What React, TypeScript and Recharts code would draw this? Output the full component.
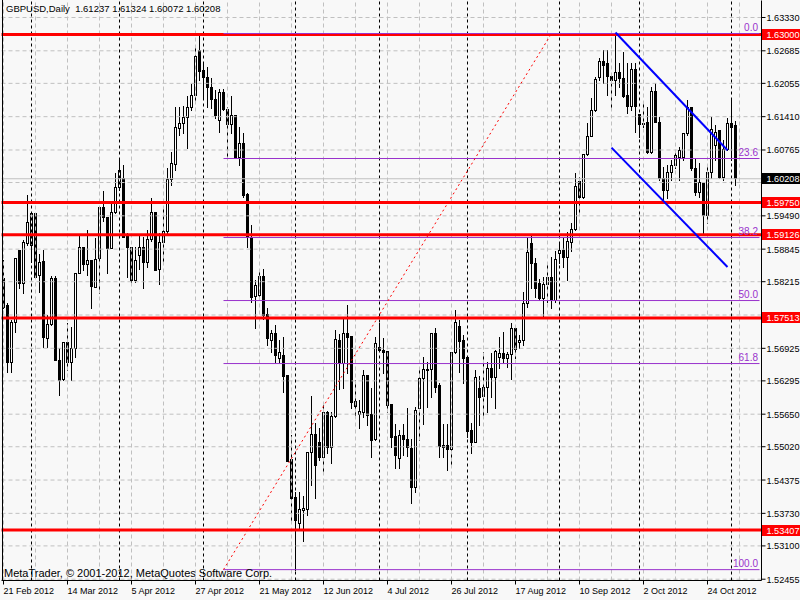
import React from "react";
import { ComposedChart, Bar, XAxis, YAxis, ReferenceLine } from "recharts";

// GBPUSD daily candles, 21 Feb 2012 onwards
const opens = [
  1.5828, 1.5775, 1.5665, 1.5743, 1.5882, 1.5818, 1.5895, 1.5892, 1.5954, 1.5834,
  1.5861, 1.5711, 1.5739, 1.5828, 1.5669, 1.5632, 1.5704, 1.5665, 1.5692, 1.5837,
  1.5888, 1.5855, 1.5863, 1.5810, 1.5866, 1.5965, 1.5946, 1.5886, 1.5956, 1.6004,
  1.6021, 1.5911, 1.5888, 1.5824, 1.5872, 1.5888, 1.5859, 1.5903, 1.5956, 1.5845,
  1.5897, 1.5919, 1.6019, 1.6048, 1.6118, 1.6128, 1.6139, 1.6159, 1.6182, 1.6269,
  1.6230, 1.6217, 1.6197, 1.6174, 1.6134, 1.6188, 1.6155, 1.6126, 1.6143, 1.6062,
  1.6089, 1.5990, 1.5907, 1.5793, 1.5795, 1.5832, 1.5758, 1.5708, 1.5721, 1.5673,
  1.5679, 1.5640, 1.5477, 1.5404, 1.5353, 1.5379, 1.5381, 1.5491, 1.5526, 1.5510,
  1.5481, 1.5568, 1.5500, 1.5560, 1.5708, 1.5663, 1.5721, 1.5715, 1.5590, 1.5564,
  1.5568, 1.5640, 1.5564, 1.5516, 1.5694, 1.5688, 1.5686, 1.5584, 1.5522, 1.5479,
  1.5524, 1.5516, 1.5498, 1.5423, 1.5576, 1.5634, 1.5650, 1.5651, 1.5721, 1.5620,
  1.5504, 1.5504, 1.5496, 1.5684, 1.5735, 1.5708, 1.5675, 1.5533, 1.5510, 1.5615,
  1.5599, 1.5617, 1.5653, 1.5636, 1.5675, 1.5682, 1.5673, 1.5680, 1.5731, 1.5704,
  1.5708, 1.5779, 1.5895, 1.5857, 1.5818, 1.5789, 1.5816, 1.5830, 1.5785, 1.5876,
  1.5882, 1.5868, 1.5897, 1.5922, 1.6015, 1.5985, 1.6068, 1.6103, 1.6153, 1.6217,
  1.6248, 1.6244, 1.6219, 1.6211, 1.6226, 1.6215, 1.6182, 1.6161, 1.6232, 1.6145,
  1.6128, 1.6130, 1.6072, 1.6190, 1.6130, 1.6021, 1.5998, 1.6033, 1.6047, 1.6062,
  1.6062, 1.6108, 1.6159, 1.6041, 1.5994, 1.6011, 1.5950, 1.6033, 1.6085, 1.6114,
  1.6023, 1.6077, 1.6128, 1.61237,
];
const highs = [
  1.5863, 1.5779, 1.5746, 1.5866, 1.5882, 1.5901, 1.5988, 1.5954, 1.5954, 1.5874,
  1.5882, 1.5756, 1.5832, 1.5832, 1.5692, 1.5704, 1.5741, 1.5733, 1.5837, 1.5909,
  1.5888, 1.5921, 1.5863, 1.5905, 1.5965, 1.5996, 1.5946, 1.5973, 1.6031, 1.6056,
  1.6047, 1.5915, 1.5888, 1.5888, 1.5909, 1.5907, 1.5921, 1.5982, 1.5956, 1.5915,
  1.5967, 1.6041, 1.6072, 1.6159, 1.6159, 1.6161, 1.6180, 1.6203, 1.6277, 1.6296,
  1.6244, 1.6236, 1.6215, 1.6192, 1.6194, 1.6194, 1.6159, 1.6180, 1.6143, 1.6120,
  1.6108, 1.5992, 1.5930, 1.5824, 1.5845, 1.5845, 1.5770, 1.5727, 1.5737, 1.5708,
  1.5713, 1.5640, 1.5524, 1.5413, 1.5413, 1.5406, 1.5491, 1.5599, 1.5547, 1.5537,
  1.5586, 1.5570, 1.5568, 1.5727, 1.5719, 1.5750, 1.5775, 1.5715, 1.5630, 1.5592,
  1.5650, 1.5640, 1.5615, 1.5713, 1.5741, 1.5711, 1.5686, 1.5584, 1.5545, 1.5533,
  1.5545, 1.5576, 1.5516, 1.5578, 1.5651, 1.5675, 1.5665, 1.5721, 1.5731, 1.5624,
  1.5545, 1.5545, 1.5684, 1.5766, 1.5746, 1.5717, 1.5675, 1.5547, 1.5650, 1.5638,
  1.5684, 1.5665, 1.5682, 1.5688, 1.5713, 1.5723, 1.5684, 1.5741, 1.5733, 1.5717,
  1.5801, 1.5907, 1.5911, 1.5866, 1.5826, 1.5830, 1.5853, 1.5868, 1.5880, 1.5895,
  1.5905, 1.5917, 1.5934, 1.6031, 1.6023, 1.6068, 1.6128, 1.6176, 1.6217, 1.6253,
  1.6269, 1.6269, 1.6225, 1.6302, 1.6244, 1.6265, 1.6244, 1.6244, 1.6244, 1.6145,
  1.6166, 1.6159, 1.6197, 1.6205, 1.6139, 1.6042, 1.6047, 1.6056, 1.6076, 1.6081,
  1.6108, 1.6172, 1.6159, 1.6060, 1.6050, 1.6011, 1.6047, 1.6139, 1.6124, 1.6114,
  1.6095, 1.6137, 1.6176, 1.61324,
];
const lows = [
  1.5770, 1.5646, 1.5646, 1.5723, 1.5808, 1.5799, 1.5892, 1.5859, 1.5830, 1.5801,
  1.5694, 1.5694, 1.5737, 1.5669, 1.5601, 1.5630, 1.5650, 1.5630, 1.5675, 1.5837,
  1.5843, 1.5834, 1.5770, 1.5810, 1.5799, 1.5938, 1.5837, 1.5886, 1.5954, 1.5998,
  1.5907, 1.5830, 1.5820, 1.5820, 1.5845, 1.5808, 1.5849, 1.5899, 1.5843, 1.5816,
  1.5859, 1.5915, 1.6008, 1.6037, 1.6105, 1.6108, 1.6079, 1.6153, 1.6166, 1.6211,
  1.6178, 1.6159, 1.6157, 1.6137, 1.6110, 1.6153, 1.6064, 1.6108, 1.6060, 1.6047,
  1.5985, 1.5888, 1.5781, 1.5731, 1.5791, 1.5748, 1.5698, 1.5684, 1.5665, 1.5665,
  1.5607, 1.5473, 1.5353, 1.5262, 1.5340, 1.5318, 1.5369, 1.5426, 1.5402, 1.5475,
  1.5450, 1.5489, 1.5469, 1.5558, 1.5613, 1.5615, 1.5644, 1.5576, 1.5558, 1.5537,
  1.5558, 1.5543, 1.5481, 1.5514, 1.5688, 1.5644, 1.5568, 1.5500, 1.5460, 1.5460,
  1.5485, 1.5483, 1.5392, 1.5413, 1.5514, 1.5545, 1.5578, 1.5597, 1.5607, 1.5481,
  1.5481, 1.5456, 1.5467, 1.5682, 1.5646, 1.5624, 1.5520, 1.5489, 1.5510, 1.5543,
  1.5560, 1.5568, 1.5597, 1.5576, 1.5653, 1.5665, 1.5655, 1.5632, 1.5673, 1.5692,
  1.5698, 1.5772, 1.5808, 1.5791, 1.5785, 1.5753, 1.5781, 1.5770, 1.5781, 1.5857,
  1.5849, 1.5824, 1.5880, 1.5921, 1.5956, 1.5983, 1.6066, 1.6103, 1.6151, 1.6211,
  1.6205, 1.6182, 1.6159, 1.6182, 1.6197, 1.6178, 1.6147, 1.6153, 1.6110, 1.6101,
  1.6120, 1.6070, 1.6070, 1.6130, 1.6017, 1.5979, 1.5983, 1.6017, 1.6041, 1.6017,
  1.6056, 1.6105, 1.6037, 1.5988, 1.5985, 1.5915, 1.5934, 1.6021, 1.6056, 1.6021,
  1.6017, 1.6076, 1.6056, 1.60072,
];
const closes = [
  1.5772, 1.5665, 1.5743, 1.5866, 1.5818, 1.5897, 1.5936, 1.5954, 1.5830, 1.5859,
  1.5713, 1.5739, 1.5828, 1.5669, 1.5630, 1.5704, 1.5665, 1.5692, 1.5837, 1.5888,
  1.5855, 1.5863, 1.5812, 1.5864, 1.5965, 1.5946, 1.5886, 1.5956, 1.6004, 1.6037,
  1.5907, 1.5888, 1.5824, 1.5863, 1.5888, 1.5859, 1.5903, 1.5956, 1.5843, 1.5897,
  1.5919, 1.6019, 1.6050, 1.6120, 1.6128, 1.6139, 1.6159, 1.6182, 1.6258, 1.6228,
  1.6217, 1.6197, 1.6174, 1.6143, 1.6188, 1.6155, 1.6126, 1.6143, 1.6062, 1.6089,
  1.5988, 1.5907, 1.5791, 1.5814, 1.5832, 1.5756, 1.5711, 1.5721, 1.5679, 1.5684,
  1.5638, 1.5473, 1.5402, 1.5359, 1.5381, 1.5382, 1.5491, 1.5526, 1.5466, 1.5481,
  1.5568, 1.5500, 1.5560, 1.5709, 1.5663, 1.5721, 1.5713, 1.5588, 1.5580, 1.5570,
  1.5640, 1.5562, 1.5514, 1.5702, 1.5688, 1.5684, 1.5582, 1.5520, 1.5485, 1.5524,
  1.5516, 1.5500, 1.5423, 1.5572, 1.5634, 1.5651, 1.5651, 1.5721, 1.5617, 1.5502,
  1.5500, 1.5496, 1.5684, 1.5743, 1.5706, 1.5673, 1.5532, 1.5510, 1.5636, 1.5597,
  1.5617, 1.5653, 1.5636, 1.5686, 1.5682, 1.5673, 1.5680, 1.5731, 1.5690, 1.5708,
  1.5779, 1.5878, 1.5857, 1.5808, 1.5789, 1.5816, 1.5830, 1.5785, 1.5864, 1.5882,
  1.5868, 1.5899, 1.5922, 1.6006, 1.5985, 1.6068, 1.6103, 1.6153, 1.6213, 1.6248,
  1.6240, 1.6219, 1.6211, 1.6226, 1.6215, 1.6180, 1.6161, 1.6232, 1.6161, 1.6126,
  1.6126, 1.6072, 1.6190, 1.6130, 1.6021, 1.5998, 1.6033, 1.6047, 1.6066, 1.6076,
  1.6108, 1.6159, 1.6041, 1.5994, 1.6013, 1.5950, 1.6033, 1.6116, 1.6110, 1.6023,
  1.6077, 1.6128, 1.6120, 1.60208,
];

// one label every 16 bars, starting at the first bar
const dateLabels = [
  "21 Feb 2012", "14 Mar 2012", "5 Apr 2012", "27 Apr 2012", "21 May 2012", "12 Jun 2012",
  "4 Jul 2012", "26 Jul 2012", "17 Aug 2012", "10 Sep 2012", "2 Oct 2012", "24 Oct 2012",
];
const priceTicks = [
  1.6333, 1.62685, 1.62055, 1.6141, 1.60765, 1.60135, 1.5949, 1.58845, 1.58215,
  1.5757, 1.56925, 1.56295, 1.5565, 1.5502, 1.54375, 1.5373, 1.531, 1.52455,
];
const levels = [1.63, 1.5975, 1.59126, 1.57513, 1.53407];
const lastPrice = 1.60208;
const fibLevels = [
  { name: "0.0", price: 1.6302 },
  { name: "23.6", price: 1.606 },
  { name: "38.2", price: 1.5907 },
  { name: "50.0", price: 1.5785 },
  { name: "61.8", price: 1.5663 },
  { name: "100.0", price: 1.5264 },
];
const fibFrom = 55;
const fibTrend = [{ x: 55, y: 1.5264 }, { x: 137, y: 1.6302 }];
const channelUpper = [{ x: 153, y: 1.6304 }, { x: 181, y: 1.6076 }];
const channelLower = [{ x: 152, y: 1.6081 }, { x: 181, y: 1.585 }];
const monthStarts = [7, 29, 50, 73, 94, 116, 139, 159, 182];

const SLOTS = 190; // bars plus empty space on the right
const FONT = "'Liberation Sans', Arial, sans-serif";
const FIB = "#9932cc";

const data = Array.from({ length: SLOTS }, (_, i) =>
  i < opens.length
    ? { idx: i, open: opens[i], high: highs[i], low: lows[i], close: closes[i], range: [lows[i], highs[i]] }
    : { idx: i }
);
const gridSlots = Array.from({ length: Math.ceil(SLOTS / 8) }, (_, k) => k * 8);

const Candle = (props: any) => {
  const { x, y, width, height, payload } = props;
  if (!payload || payload.open == null) return null;
  const top = Math.min(y, y + height);
  const bot = Math.max(y, y + height);
  const span = payload.high - payload.low || 1;
  const toY = (p: number) => top + ((payload.high - p) / span) * (bot - top);
  const cx = Math.floor(x + width / 2);
  const yo = Math.floor(toY(payload.open));
  const yc = Math.floor(toY(payload.close));
  const yt = Math.floor(top);
  const yb = Math.floor(bot);
  const b0 = Math.min(yo, yc);
  const b1 = Math.max(yo, yc);
  const bull = payload.close >= payload.open;
  return (
    <g>
      <rect x={cx} y={yt} width={1} height={Math.max(yb - yt + 1, 1)} fill="#000" />
      {b1 - b0 < 1 ? (
        <rect x={cx - 1} y={b0} width={3} height={1} fill="#000" />
      ) : bull ? (
        <rect x={cx - 0.5} y={b0 + 0.5} width={2} height={b1 - b0} fill="#fff" stroke="#000" strokeWidth={1} />
      ) : (
        <rect x={cx - 1} y={b0} width={3} height={b1 - b0 + 1} fill="#000" />
      )}
    </g>
  );
};

const PriceTick = (props: any) => {
  const { x, y, payload } = props;
  const v = payload.value;
  const boxX = x - 5.5;
  const common = { x: x - 1, y: y + 3.5, fontSize: 9.5, fontFamily: FONT, textLength: 33, lengthAdjust: "spacingAndGlyphs" };
  if (levels.includes(v) || v === lastPrice) {
    const bg = v === lastPrice ? "#000" : "#ff0000";
    return (
      <g>
        <rect x={boxX} y={Math.floor(y) - 5} width={40} height={11} fill={bg} />
        <text {...common} fill="#fff">
          {v.toFixed(5)}
        </text>
      </g>
    );
  }
  const hidden = [...levels, lastPrice].some((l) => Math.abs(l - v) < 0.0012);
  if (hidden) return <g />;
  return (
    <text {...common} fill="#000">
      {v.toFixed(5)}
    </text>
  );
};

const DateTick = (props: any) => {
  const { x, y, payload } = props;
  const label = dateLabels[payload.value / 16];
  if (!label) return <g />;
  return (
    <text x={x} y={y + 7.5} fill="#000" fontSize={9} fontFamily={FONT}>
      {label}
    </text>
  );
};

const FibLabel = (props: any) => {
  const vb = props.viewBox || {};
  const right = (vb.x ?? 0) + (vb.width ?? 0);
  return (
    <text x={right - 1.5} y={(vb.y ?? 0) - 2.5} textAnchor="end" fill={FIB} fontSize={10} fontFamily={FONT}>
      {props.fibText}
    </text>
  );
};

export default function App() {
  return (
    <div style={{ position: "absolute", left: 0, top: 0, width: 800, height: 600, background: "#f8f8f8" }}>
      <ComposedChart
        width={800}
        height={600}
        data={data}
        margin={{ top: 0.5, right: 0, bottom: 0, left: 1.5 }}
      >
        <XAxis
          dataKey="idx"
          type="category"
          interval={15}
          height={19.5}
          tickSize={4}
          tickLine={{ stroke: "#000" }}
          axisLine={{ stroke: "#000" }}
          tick={<DateTick />}
        />
        <YAxis
          orientation="right"
          type="number"
          domain={[1.5243, 1.63659]}
          allowDataOverflow
          ticks={[...priceTicks, ...levels, lastPrice]}
          interval={0}
          width={38.5}
          tickSize={4}
          tickLine={{ stroke: "#000" }}
          axisLine={{ stroke: "#000" }}
          tick={<PriceTick />}
        />
        {priceTicks.map((p) => (
          <ReferenceLine key={"h" + p} y={p} stroke="#c0c0c0" strokeDasharray="4 3" />
        ))}
        {gridSlots.map((s) => (
          <ReferenceLine key={"v" + s} x={s} stroke="#c0c0c0" strokeDasharray="4 3" />
        ))}
        {monthStarts.map((s) => (
          <ReferenceLine key={"m" + s} x={s} stroke="#000" strokeDasharray="3 3" />
        ))}
        <ReferenceLine y={lastPrice} stroke="#c0c0c0" />
        <Bar dataKey="range" barSize={4} shape={<Candle />} isAnimationActive={false} />
        {levels.map((p) => (
          <ReferenceLine key={"l" + p} y={p} stroke="#ff0000" strokeWidth={3} />
        ))}
        {fibLevels.map((f) => (
          <ReferenceLine
            key={"f" + f.name}
            segment={[{ x: fibFrom, y: f.price }, { x: SLOTS - 1, y: f.price }]}
            stroke={FIB}
            label={<FibLabel fibText={f.name} />}
          />
        ))}
        <ReferenceLine segment={fibTrend} stroke="#ff0000" strokeDasharray="2 3" />
        <ReferenceLine segment={channelUpper} stroke="#0000ff" strokeWidth={2} />
        <ReferenceLine segment={channelLower} stroke="#0000ff" strokeWidth={2} />
      </ComposedChart>
      <div style={{ position: "absolute", left: 2, top: 0, width: 1, height: 581, background: "#000" }} />
      <div
        style={{
          position: "absolute", left: 6, top: 3, fontFamily: FONT, fontSize: 9.5,
          whiteSpace: "pre", color: "#000", lineHeight: "12px",
        }}
      >
        {"GBPUSD,Daily  1.61237 1.61324 1.60072 1.60208"}
      </div>
      <div
        style={{
          position: "absolute", left: 4, top: 567, fontFamily: FONT, fontSize: 11,
          whiteSpace: "pre", color: "#000", lineHeight: "13px",
        }}
      >
        {"MetaTrader, © 2001-2012, MetaQuotes Software Corp."}
      </div>
    </div>
  );
}
